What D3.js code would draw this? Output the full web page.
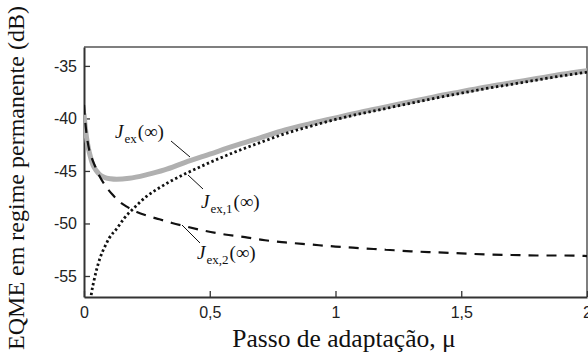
<!DOCTYPE html>
<html>
<head>
<meta charset="utf-8">
<script src="https://cdn.jsdelivr.net/npm/d3@7"></script>
<style>
  html, body { margin: 0; padding: 0; background: #fff; }
  svg { display: block; }
</style>
</head>
<body>
<svg id="chart" width="588" height="354"></svg>
<script>
// Step size (mu) and steady-state excess MSE (dB) for each component
const muTotal = [0, 0.004, 0.01, 0.018, 0.025, 0.035, 0.05, 0.065, 0.08, 0.105, 0.13, 0.18, 0.25, 0.32, 0.4, 0.5, 0.6, 0.7, 0.8, 0.9, 1.0, 1.1, 1.2, 1.3, 1.4, 1.5, 1.6, 1.7, 1.8, 1.9, 2.0];
const jexTotal = [-39.6, -40.6, -41.8, -42.9, -43.6, -44.4, -45.0, -45.4, -45.6, -45.75, -45.8, -45.7, -45.35, -44.9, -44.2, -43.4, -42.6, -41.85, -41.1, -40.5, -39.95, -39.4, -38.9, -38.4, -37.9, -37.45, -37.0, -36.6, -36.2, -35.8, -35.45];

const muOne = [0.026, 0.03, 0.04, 0.05, 0.065, 0.083, 0.1, 0.13, 0.16, 0.2, 0.25, 0.3, 0.35, 0.4, 0.5, 0.6, 0.7, 0.8, 0.9, 1.0, 1.1, 1.2, 1.3, 1.4, 1.5, 1.6, 1.7, 1.8, 1.9, 2.0];
const jexOne = [-57.3, -56.6, -55.4, -54.4, -53.2, -52.2, -51.4, -50.5, -49.5, -48.5, -47.4, -46.6, -45.9, -45.3, -44.2, -43.2, -42.3, -41.45, -40.75, -40.1, -39.55, -39.05, -38.55, -38.05, -37.6, -37.15, -36.75, -36.35, -35.95, -35.6];

const muTwo = [0, 0.005, 0.012, 0.02, 0.03, 0.045, 0.06, 0.085, 0.115, 0.14, 0.17, 0.21, 0.25, 0.3, 0.35, 0.4, 0.48, 0.56, 0.64, 0.72, 0.8, 0.9, 1.0, 1.1, 1.2, 1.3, 1.4, 1.5, 1.6, 1.7, 1.8, 1.9, 2.0];
const jexTwo = [-38.7, -40.3, -41.8, -42.9, -43.7, -44.6, -45.4, -46.4, -47.3, -47.9, -48.4, -48.9, -49.25, -49.6, -49.95, -50.25, -50.7, -51.05, -51.3, -51.6, -51.8, -52.0, -52.2, -52.35, -52.5, -52.65, -52.75, -52.85, -52.95, -53.0, -53.05, -53.05, -53.1];

const xTicks = [0, 0.5, 1, 1.5, 2];
const xTickLabels = ["0", "0,5", "1", "1,5", "2"];
const yTicks = [-55, -50, -45, -40, -35];

const svg = d3.select("#chart");
const pL = 84, pR = 587, pT = 47, pB = 297;

const x = d3.scaleLinear().domain([0, 2]).range([pL, pR]);
const y = d3.scaleLinear().domain([-57, -33.2]).range([pB, pT]);

svg.append("defs").append("clipPath").attr("id", "plotclip")
  .append("rect").attr("x", pL).attr("y", pT)
  .attr("width", pR - pL).attr("height", pB - pT);

// frame: top and right edges
svg.append("path")
  .attr("d", `M${pL},${pT}H${pR}V${pB}`)
  .attr("fill", "none").attr("stroke", "#555").attr("stroke-width", 1.5);

// axes with inward ticks
const xAxis = d3.axisBottom(x).tickValues(xTicks)
  .tickFormat((d, i) => xTickLabels[i]).tickSizeInner(-6).tickSizeOuter(0).tickPadding(10);
const yAxis = d3.axisLeft(y).tickValues(yTicks)
  .tickFormat(d => "-" + Math.abs(d)).tickSizeInner(-6).tickSizeOuter(0).tickPadding(7);

const gx = svg.append("g").attr("transform", `translate(0,${pB})`).call(xAxis);
const gy = svg.append("g").attr("transform", `translate(${pL},0)`).call(yAxis);
[gx, gy].forEach(g => {
  g.select(".domain").attr("stroke", "#333").attr("stroke-width", 2);
  g.selectAll(".tick line").attr("stroke", "#333").attr("stroke-width", 1.3);
  g.selectAll(".tick text").attr("fill", "#222")
    .style("font-family", "'Liberation Sans', Arial, sans-serif").style("font-size", "16px");
});

// curves
const plot = svg.append("g").attr("clip-path", "url(#plotclip)");
const line = d3.line().x(d => x(d[0])).y(d => y(d[1])).curve(d3.curveMonotoneX);

plot.append("path").datum(d3.zip(muTotal, jexTotal))
  .attr("d", line).attr("fill", "none")
  .attr("stroke", "#b0b0b0").attr("stroke-width", 5).attr("stroke-linecap", "round");

plot.append("path").datum(d3.zip(muOne, jexOne))
  .attr("d", line).attr("fill", "none")
  .attr("stroke", "#111").attr("stroke-width", 2.8).attr("stroke-dasharray", "2.4,2.6");

plot.append("path").datum(d3.zip(muTwo, jexTwo))
  .attr("d", line).attr("fill", "none")
  .attr("stroke", "#111").attr("stroke-width", 2.2).attr("stroke-dasharray", "10,8");

// curve labels with leader lines
const serif = "'Liberation Serif', 'DejaVu Serif', serif";
function curveLabel(tx, ty, sub, l) {
  const t = svg.append("text").attr("x", tx).attr("y", ty)
    .style("font-family", serif).style("font-size", "19px").attr("fill", "#111");
  t.append("tspan").style("font-style", "italic").text("J");
  t.append("tspan").attr("dy", 5).attr("dx", 1).style("font-size", "13px").text(sub);
  t.append("tspan").attr("dy", -5).attr("dx", 1).text("(∞)");
  svg.append("line").attr("x1", l[0]).attr("y1", l[1]).attr("x2", l[2]).attr("y2", l[3])
    .attr("stroke", "#111").attr("stroke-width", 1);
}
curveLabel(115, 138, "ex", [171, 141, 190, 157]);
curveLabel(201, 208, "ex,1", [188, 175, 203, 189]);
curveLabel(197, 259, "ex,2", [182, 225, 200, 243]);

// axis titles
svg.append("text")
  .attr("x", 344).attr("y", 347)
  .attr("text-anchor", "middle")
  .style("font-family", serif).style("font-size", "25.5px").attr("fill", "#111")
  .text("Passo de adaptação, μ");

svg.append("text")
  .attr("transform", "translate(24,178) rotate(-90)")
  .attr("text-anchor", "middle")
  .style("font-family", serif).style("font-size", "24px").attr("fill", "#111")
  .text("EQME em regime permanente (dB)");
</script>
</body>
</html>
